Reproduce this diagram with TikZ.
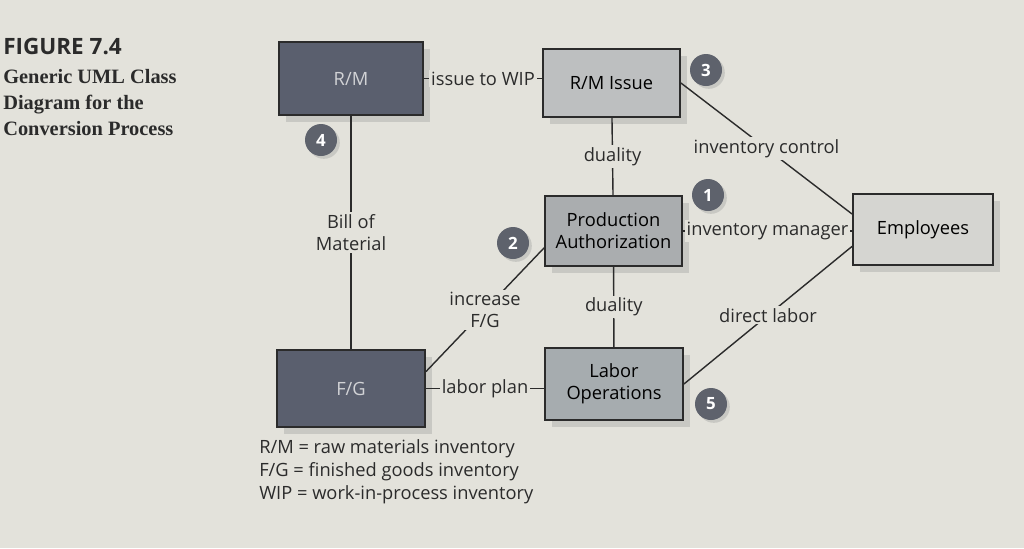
\documentclass[tikz,border=0pt]{standalone}
\usepackage{fontspec}
\setmainfont{Open Sans}
\newfontfamily\capserif{Liberation Serif}
\usetikzlibrary{shadows}
\definecolor{pagebg}{HTML}{E3E2DB}
\definecolor{slate}{HTML}{5A5F6E}
\definecolor{slatetext}{HTML}{D2D3D6}
\definecolor{issuegray}{HTML}{BDBFC0}
\definecolor{authgray}{HTML}{AAADAF}
\definecolor{laborgray}{HTML}{A6ACAF}
\definecolor{empgray}{HTML}{D5D5D1}
\definecolor{circgray}{HTML}{5E626C}
\definecolor{ink}{HTML}{2B2B2B}
\tikzset{
  classbox/.style={draw=ink, line width=1.3pt, inner sep=0pt, align=center,
    drop shadow={shadow xshift=5pt, shadow yshift=-5pt, fill=black!45, opacity=0.3}},
  darkbox/.style={classbox, fill=slate, text=slatetext},
  numcirc/.style={circle, fill=circgray, text=white, font=\fontsize{12}{14}\selectfont\bfseries, minimum size=0.8cm, inner sep=0pt,
    drop shadow={shadow xshift=2pt, shadow yshift=-2pt, fill=black!45, opacity=0.3}},
  assoc/.style={draw=ink, line width=1pt},
  rolelabel/.style={fill=pagebg, inner sep=1.5pt, text=ink, align=center}
}
\begin{document}
\begin{tikzpicture}[x=0.025cm, y=-0.025cm, font=\fontsize{13}{15.5}\selectfont]
\useasboundingbox[fill=pagebg] (0,0) rectangle (1024,548);
% caption
\node[anchor=north west, inner sep=0pt, text=ink, font=\fontsize{16}{18}\selectfont\bfseries] (figno) at (3,38) {FIGURE 7.4};
\node[anchor=north west, inner sep=0pt, text=ink, align=left, font=\capserif\fontsize{14.5}{18.5}\selectfont\bfseries] (figcap) at (3,69) {Generic UML Class\\Diagram for the\\Conversion Process};
% classes
\node[darkbox, minimum width=3.6cm, minimum height=1.825cm] (rm) at (351,78.5) {R/M};
\node[classbox, fill=issuegray, minimum width=3.425cm, minimum height=1.7cm] (rmi) at (611.5,83) {R/M Issue};
\node[classbox, fill=authgray, minimum width=3.425cm, minimum height=1.75cm] (pa) at (613.5,231) {Production\\Authorization};
\node[classbox, fill=empgray, minimum width=3.5cm, minimum height=1.775cm] (emp) at (923,229.5) {Employees};
\node[darkbox, minimum width=3.7cm, minimum height=1.925cm] (fg) at (351,388.5) {F/G};
\node[classbox, fill=laborgray, minimum width=3.45cm, minimum height=1.8cm] (lo) at (614,384) {Labor\\Operations};
% associations
\draw[assoc] (rm.east) -- node[rolelabel] {issue to WIP} (rm.east -| rmi.west);
\draw[assoc] (rm) -- node[rolelabel] {Bill of\\Material} (fg);
\draw[assoc] (rmi) -- node[rolelabel] {duality} (pa);
\draw[assoc] (pa) -- node[rolelabel] {duality} (lo);
\draw[assoc] (rmi.east) -- node[rolelabel] {inventory control} ([yshift=11pt]emp.west);
\draw[assoc] (pa.east) -- node[rolelabel] {inventory manager} (pa.east -| emp.west);
\draw[assoc] (lo.east) -- node[rolelabel] {direct labor} ([yshift=-12pt]emp.west);
\draw[assoc] ([yshift=-12pt]pa.west) -- node[rolelabel] {increase\\F/G} ([yshift=12pt]fg.east);
\draw[assoc] (fg.east) -- node[rolelabel] {labor plan} (fg.east -| lo.west);
% numbered markers
\node[numcirc] (n1) at (708,195) {1};
\node[numcirc] (n2) at (513,243) {2};
\node[numcirc] (n3) at (706,70) {3};
\node[numcirc] (n4) at (321,140) {4};
\node[numcirc] (n5) at (711,404) {5};
% legend
\node[anchor=north west, inner sep=0pt, align=left, text=ink, font=\fontsize{13}{16.5}\selectfont] (key) at (259,439) {R/M = raw materials inventory\\F/G = finished goods inventory\\WIP = work-in-process inventory};
\end{tikzpicture}
\end{document}
